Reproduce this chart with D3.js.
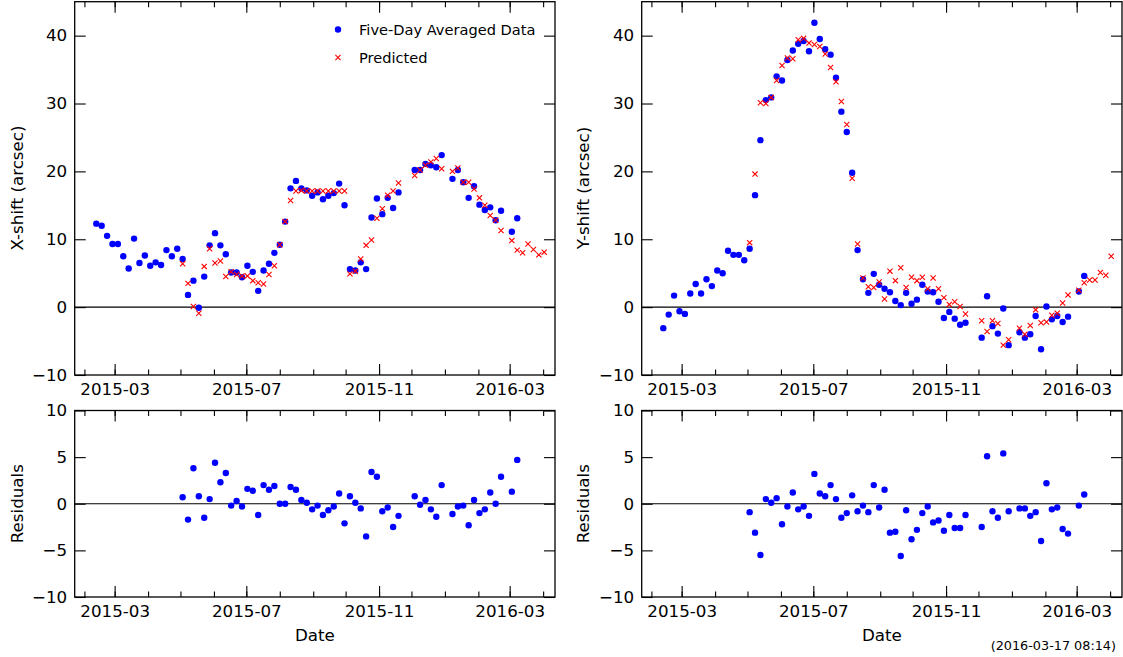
<!DOCTYPE html>
<html>
<head>
<meta charset="utf-8">
<script src="https://cdn.jsdelivr.net/npm/d3@7"></script>
<style>
body { margin: 0; background: #fff; }
text { font-family: "DejaVu Sans", sans-serif; }
</style>
</head>
<body>
<script>
// five-day bins
var dates = ["2015-02-12","2015-02-17","2015-02-22","2015-02-27","2015-03-04","2015-03-09","2015-03-14","2015-03-19",
  "2015-03-24","2015-03-29","2015-04-03","2015-04-08","2015-04-13","2015-04-18","2015-04-23","2015-04-28",
  "2015-05-03","2015-05-08","2015-05-13","2015-05-18","2015-05-23","2015-05-28","2015-06-02","2015-06-07",
  "2015-06-12","2015-06-17","2015-06-22","2015-06-27","2015-07-02","2015-07-07","2015-07-12","2015-07-17",
  "2015-07-22","2015-07-27","2015-08-01","2015-08-06","2015-08-11","2015-08-16","2015-08-21","2015-08-26",
  "2015-08-31","2015-09-05","2015-09-10","2015-09-15","2015-09-20","2015-09-25","2015-09-30","2015-10-05",
  "2015-10-10","2015-10-15","2015-10-20","2015-10-25","2015-10-30","2015-11-04","2015-11-09","2015-11-14",
  "2015-11-19","2015-11-24","2015-11-29","2015-12-04","2015-12-09","2015-12-14","2015-12-19","2015-12-24",
  "2015-12-29","2016-01-03","2016-01-08","2016-01-13","2016-01-18","2016-01-23","2016-01-28","2016-02-02",
  "2016-02-07","2016-02-12","2016-02-17","2016-02-22","2016-02-27","2016-03-03","2016-03-08","2016-03-13",
  "2016-03-18","2016-03-23","2016-03-28","2016-04-02"]

// X-shift (arcsec)
var xData = [12.3,12.0,10.5,9.3,9.3,7.5,5.7,10.1,6.5,7.6,6.1,6.6,6.2,8.4,7.5,8.6,
  7.1,1.8,3.9,-0.1,4.5,9.1,10.9,9.1,7.8,5.1,5.1,4.4,6.1,5.2,2.4,5.4,
  6.4,8.0,9.2,12.6,17.5,18.6,17.5,17.2,16.4,16.9,15.9,16.4,16.8,18.2,15.0,5.6,
  5.4,6.6,5.6,13.2,16.0,13.7,16.1,14.6,16.9,null,null,20.2,20.2,21.1,20.9,20.6,
  22.4,null,18.9,20.2,18.4,16.1,17.8,15.1,14.3,14.7,12.8,14.2,null,11.1,13.1,null,
  null,null,null,null]
var xPred = [null,null,null,null,null,null,null,null,null,null,null,null,null,null,null,null,
  6.4,3.5,0.1,-0.9,6.0,8.6,6.5,6.8,4.5,5.2,4.8,4.6,4.6,3.9,3.6,3.4,
  4.8,6.1,9.2,12.6,15.7,17.1,17.2,17.1,17.1,17.1,17.1,17.1,17.1,17.1,17.1,4.9,
  5.3,7.1,9.1,9.9,13.1,14.5,16.5,17.1,18.3,null,null,19.4,20.2,20.9,21.4,21.9,
  20.4,null,20.0,20.5,18.4,18.4,17.4,16.1,15.0,13.5,12.8,11.3,null,9.8,8.4,8.0,
  9.3,8.5,7.7,8.1]
var xResid = [null,null,null,null,null,null,null,null,null,null,null,null,null,null,null,null,
  0.7,-1.7,3.8,0.8,-1.5,0.5,4.4,2.3,3.3,-0.2,0.3,-0.3,1.6,1.4,-1.2,2.0,
  1.5,1.9,0.0,0.0,1.8,1.5,0.4,0.1,-0.6,-0.2,-1.2,-0.7,-0.3,1.1,-2.1,0.8,
  0.1,-0.5,-3.5,3.4,2.9,-0.8,-0.4,-2.5,-1.3,null,null,0.8,-0.1,0.4,-0.6,-1.4,
  2.0,null,-1.1,-0.3,-0.2,-2.3,0.4,-1.0,-0.6,1.2,0.0,2.9,null,1.3,4.7,null,
  null,null,null,null]

// Y-shift (arcsec)
var yData = [-3.1,-1.1,1.7,-0.6,-1.0,2.0,3.4,2.0,4.1,3.1,5.4,5.0,8.3,7.7,7.7,6.9,
  8.6,16.5,24.6,30.5,30.9,34.0,33.4,36.4,37.8,38.8,39.2,37.7,41.9,39.5,38.0,37.2,
  33.8,28.8,25.8,19.8,8.4,4.1,2.1,4.9,3.3,2.7,2.2,0.9,0.3,2.1,0.5,1.1,
  3.3,2.3,2.2,0.8,-1.6,-0.7,-1.7,-2.6,-2.3,null,null,-4.5,1.6,-2.8,-3.9,-0.2,
  -5.6,null,-3.7,-4.5,-4.0,-1.3,-6.2,0.1,-1.8,-1.3,-2.2,-1.4,null,2.3,4.6,null,
  null,null,null,null]
var yPred = [null,null,null,null,null,null,null,null,null,null,null,null,null,null,null,null,
  9.5,19.6,30.1,30.0,30.9,33.4,35.6,36.7,36.6,39.4,39.6,38.9,38.7,38.4,37.3,35.3,
  33.2,30.3,26.9,19.0,9.3,4.3,3.0,2.9,3.7,1.2,5.3,3.9,5.8,2.9,4.4,3.9,
  4.4,2.7,4.3,2.7,1.4,0.4,0.8,0.1,-1.0,null,null,-2.0,-3.6,-2.0,-2.4,-5.6,
  -4.8,null,-3.1,-4.0,-2.7,-0.4,-2.3,-2.2,-1.2,-0.9,0.6,1.8,null,2.5,3.6,4.0,
  4.0,5.1,4.7,7.5]
var yResid = [null,null,null,null,null,null,null,null,null,null,null,null,null,null,null,null,
  -0.9,-3.1,-5.5,0.5,0.1,0.6,-2.2,-0.3,1.2,-0.6,-0.3,-1.3,3.2,1.1,0.8,2.0,
  0.5,-1.5,-1.0,0.9,-0.8,-0.2,-0.9,2.0,-0.4,1.5,-3.1,-3.0,-5.6,-0.7,-3.8,-2.8,
  -1.0,-0.3,-2.0,-1.8,-2.9,-1.2,-2.6,-2.6,-1.2,null,null,-2.5,5.1,-0.8,-1.5,5.4,
  -0.8,null,-0.5,-0.5,-1.3,-0.9,-4.0,2.2,-0.6,-0.4,-2.7,-3.2,null,-0.2,1.0,null,
  null,null,null,null]

// axis ticks
var shiftTicks = [-10, 0, 10, 20, 30, 40]
var residTicks = [-10, -5, 0, 5, 10]
var majorLabels = ["2015-03-01", "2015-07-01", "2015-11-01", "2016-03-01"]

var parse = d3.timeParse("%Y-%m-%d")
var days = dates.map(parse)
var xDomain = [parse("2015-01-23"), parse("2016-04-12")]
var months = d3.timeMonth.range(parse("2015-02-01"), parse("2016-04-02"))
var majors = majorLabels.map(parse)

var svg = d3.select("body")
    .append("svg")
    .attr("width", 1123)
    .attr("height", 657)

function panel(px, py, pw, ph, yDomain, yTicks) {
  var g = svg.append("g").attr("transform", "translate(" + px + "," + py + ")")
  var x = d3.scaleTime().domain(xDomain).range([0, pw])
  var y = d3.scaleLinear().domain(yDomain).range([ph, 0])

  // monthly minor ticks, top and bottom, pointing inward
  g.append("g").attr("transform", "translate(0," + ph + ")")
      .call(d3.axisBottom(x).tickValues(months).tickSize(-5.5).tickFormat(""))
  g.append("g")
      .call(d3.axisTop(x).tickValues(months).tickSize(-5.5).tickFormat(""))
  // major ticks every four months
  g.append("g").attr("transform", "translate(0," + ph + ")")
      .call(d3.axisBottom(x).tickValues(majors).tickSize(-11).tickPadding(8)
        .tickFormat(d3.timeFormat("%Y-%m")))
  g.append("g")
      .call(d3.axisTop(x).tickValues(majors).tickSize(-11).tickFormat(""))
  g.append("g")
      .call(d3.axisLeft(y).tickValues(yTicks).tickSize(-11).tickPadding(7.5))
  g.append("g").attr("transform", "translate(" + pw + ",0)")
      .call(d3.axisRight(y).tickValues(yTicks).tickSize(-11).tickFormat(""))

  g.selectAll(".domain").remove()
  g.selectAll(".tick line").attr("stroke", "#000").attr("stroke-width", 1.1)
  g.selectAll(".tick text")
      .attr("fill", "#000")
      .attr("font-size", 16.7)
      .attr("font-family", "DejaVu Sans, sans-serif")

  // zero line and frame
  g.append("line")
      .attr("x1", 0).attr("x2", pw)
      .attr("y1", y(0)).attr("y2", y(0))
      .attr("stroke", "#000").attr("stroke-width", 1.2)
  g.append("rect")
      .attr("width", pw).attr("height", ph)
      .attr("fill", "none")
      .attr("stroke", "#000")
      .attr("stroke-width", 1.3)

  return { g: g, x: x, y: y }
}

function pts(vals) {
  return vals.map(function(v, i) { return { d: days[i], v: v } })
    .filter(function(d) { return d.v != null })
}

function dots(p, vals) {
  p.g.selectAll(null)
      .data(pts(vals))
      .enter()
      .append("circle")
      .attr("cx", function(d) { return p.x(d.d) })
      .attr("cy", function(d) { return p.y(d.v) })
      .attr("r", 3.2)
      .attr("fill", "#0000ff")
}

var cross = "M-2.6,-2.6L2.6,2.6M-2.6,2.6L2.6,-2.6"
function crosses(p, vals) {
  p.g.selectAll(null)
      .data(pts(vals))
      .enter()
      .append("path")
      .attr("d", cross)
      .attr("transform", function(d) { return "translate(" + p.x(d.d) + "," + p.y(d.v) + ")" })
      .attr("stroke", "#ff0000")
      .attr("stroke-width", 1.1)
      .attr("fill", "none")
}

var pw = 480.3
var topH = 373.3, botH = 186.5
var leftX = 74.7, rightX = 641.7

var p1 = panel(leftX, 1.7, pw, topH, [-10, 45], shiftTicks)
dots(p1, xData)
crosses(p1, xPred)
var p2 = panel(rightX, 1.7, pw, topH, [-10, 45], shiftTicks)
dots(p2, yData)
crosses(p2, yPred)
var p3 = panel(leftX, 410.5, pw, botH, [-10, 10], residTicks)
dots(p3, xResid)
var p4 = panel(rightX, 410.5, pw, botH, [-10, 10], residTicks)
dots(p4, yResid)

// legend
var leg = svg.append("g")
leg.append("circle").attr("cx", 338).attr("cy", 29.5).attr("r", 3.2).attr("fill", "#0000ff")
leg.append("path").attr("d", cross).attr("transform", "translate(338,57.5)")
    .attr("stroke", "#ff0000").attr("stroke-width", 1.1)
leg.append("text").attr("x", 359).attr("y", 29.5).attr("dominant-baseline", "central")
    .attr("font-size", 14.6).text("Five-Day Averaged Data")
leg.append("text").attr("x", 359).attr("y", 57.5).attr("dominant-baseline", "central")
    .attr("font-size", 14.6).text("Predicted")

// axis titles
function ylabel(x, y, s) {
  svg.append("text")
      .attr("transform", "translate(" + x + "," + y + ") rotate(-90)")
      .attr("text-anchor", "middle")
      .attr("dominant-baseline", "central")
      .attr("font-size", 16.7)
      .text(s)
}
ylabel(16.5, 188, "X-shift (arcsec)")
ylabel(16.5, 503.7, "Residuals")
ylabel(583.3, 188, "Y-shift (arcsec)")
ylabel(583.3, 503.7, "Residuals")

svg.append("text").attr("x", leftX + pw / 2).attr("y", 641).attr("text-anchor", "middle")
    .attr("font-size", 16.7).text("Date")
svg.append("text").attr("x", rightX + pw / 2).attr("y", 641).attr("text-anchor", "middle")
    .attr("font-size", 16.7).text("Date")

svg.append("text").attr("x", 1116).attr("y", 650).attr("text-anchor", "end")
    .attr("font-size", 12.8).text("(2016-03-17 08:14)")
</script>
</body>
</html>
